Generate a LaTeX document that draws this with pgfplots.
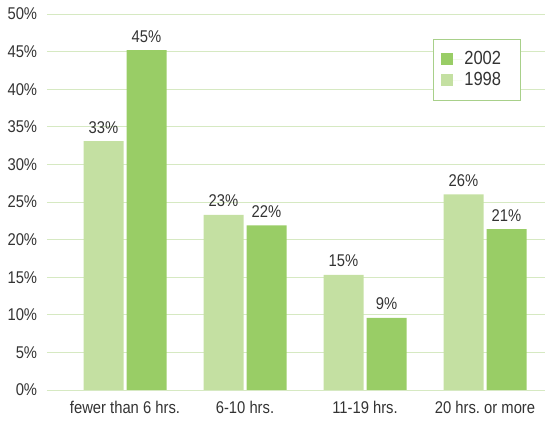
\documentclass[border=0pt]{standalone}
\usepackage{pgfplots}
\pgfplotsset{compat=1.18}
\usepackage{pgfplotstable}
\usepackage{fontspec}
\setmainfont{Liberation Sans}[FakeStretch=0.87]
\frenchspacing
\definecolor{lightg}{HTML}{C4E0A2}
\definecolor{darkg}{HTML}{99CD66}
\definecolor{gridg}{HTML}{D6E9C2}
\definecolor{legb}{HTML}{A8D08A}
\definecolor{txt}{HTML}{333333}
\pgfplotstableread{
x y lab
0 33.1 33\%
1 23.3 23\%
2 15.3 15\%
3 26.0 26\%
}\oldd
\pgfplotstableread{
x y lab
0 45.2 45\%
1 21.9 22\%
2 9.6 9\%
3 21.4 21\%
}\newd
\begin{document}
\fontsize{17pt}{20pt}\selectfont
\begin{tikzpicture}
\useasboundingbox (-47pt,-32pt) rectangle (498pt,390pt);
\begin{axis}[
  scale only axis, width=498pt, height=376pt,
  ybar=3pt, bar width=40pt,
  xmin=-0.65, xmax=3.5, ymin=0, ymax=50,
  axis line style={draw=none},
  xtick={0,1,2,3},
  xticklabels={fewer than 6 hrs., 6-10 hrs., 11-19 hrs., 20 hrs.\ or more},
  ytick={0,5,...,50},
  yticklabel={\pgfmathprintnumber{\tick}\%},
  /pgf/number format/assume math mode=true,
  major tick length=0pt,
  ymajorgrids, grid style={gridg, line width=0.8pt},
  tick label style={font=\fontsize{17pt}{20pt}\selectfont, text=txt},
  yticklabel style={xshift=-4pt},
  xticklabel style={yshift=-5pt},
  nodes near coords, point meta=explicit symbolic,
  every node near coord/.append style={font=\fontsize{17pt}{20pt}\selectfont, text=txt, yshift=2pt},
  legend style={at={(0.775,0.9335)}, anchor=north west, draw=legb, line width=0.8pt,
    text=txt, inner xsep=8pt, inner ysep=10pt,
    nodes={font=\fontsize{19pt}{22pt}\selectfont, inner sep=2pt, text width=46pt},
    row sep=1pt},
  legend cell align=left,
  reverse legend,
  legend image code/.code={\fill[#1] (0pt,-6pt) rectangle (12pt,6pt); \path (0pt,0pt) -- (21pt,0pt);},
]
\addplot[fill=lightg, draw=none] table[x=x, y=y, meta=lab] {\oldd};
\addlegendentry{1998}
\addplot[fill=darkg, draw=none] table[x=x, y=y, meta=lab] {\newd};
\addlegendentry{2002}
\end{axis}
\end{tikzpicture}
\end{document}
